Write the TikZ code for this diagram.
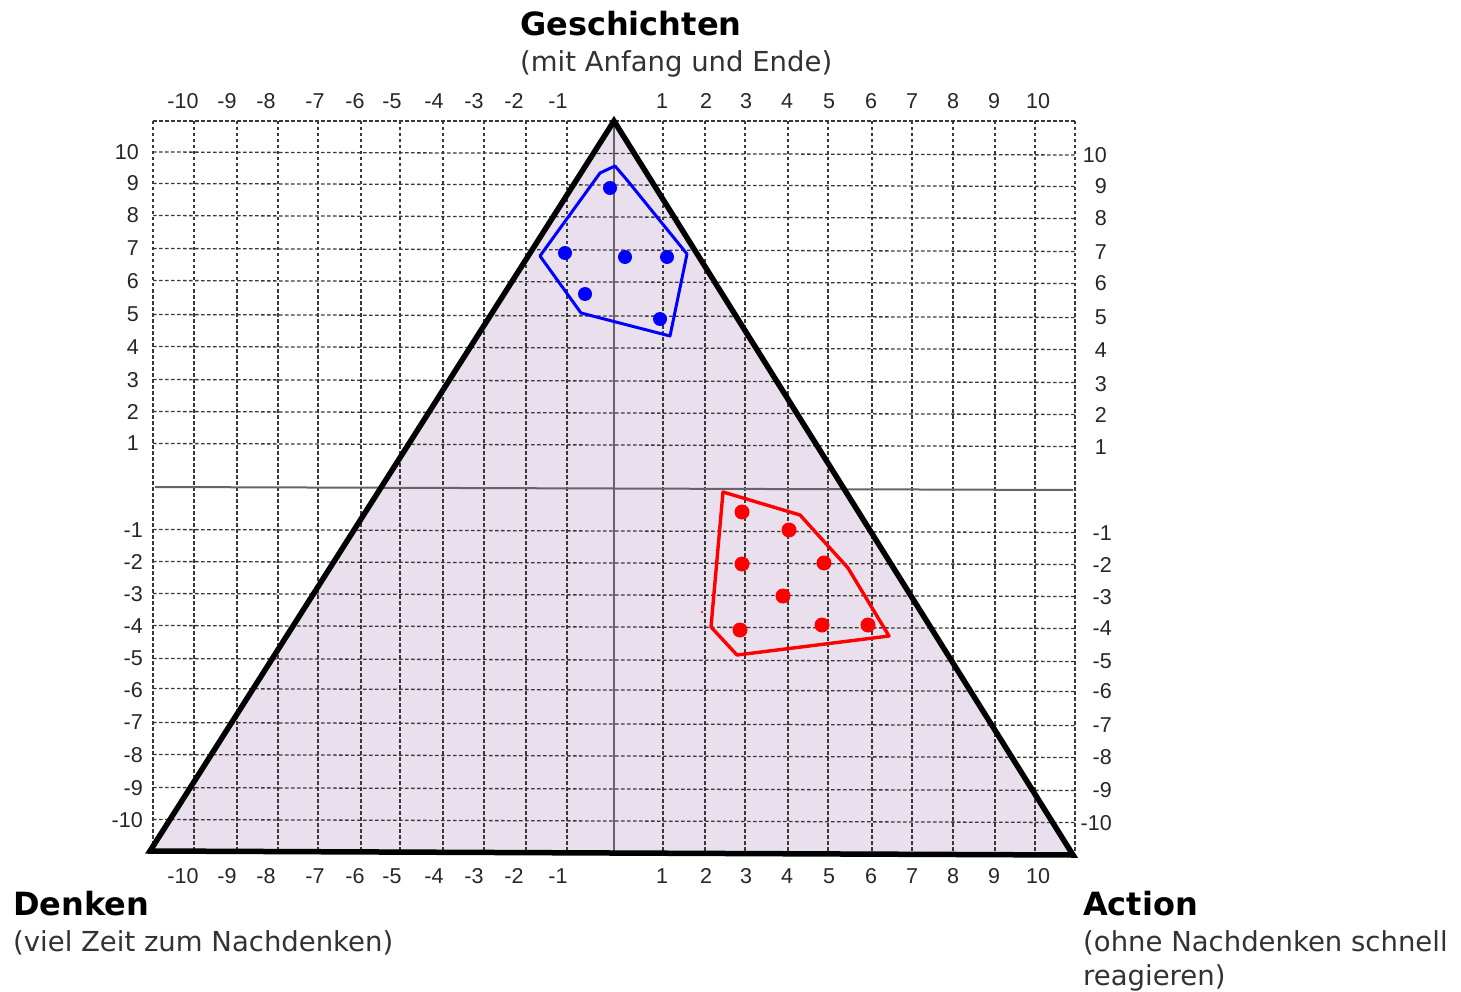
\documentclass[tikz,border=0pt]{standalone}
\usepackage{fontspec}
\setmainfont{DejaVu Sans}
\newfontfamily\tickfont{Liberation Sans}
\definecolor{trifill}{RGB}{234,223,237}
\definecolor{axisgray}{RGB}{105,98,108}
\definecolor{subgray}{RGB}{50,50,50}
\definecolor{ptblue}{RGB}{0,0,255}
\definecolor{ptred}{RGB}{255,0,0}
\begin{document}
\begin{tikzpicture}[x=1pt,y=-1pt,
  gridline/.style={draw=black!78, line width=1.3pt, dash pattern=on 3.5pt off 2.5pt},
  axisline/.style={draw=axisgray, line width=2.2pt},
  tick/.style={font=\tickfont\fontsize{21.5}{22}\selectfont, text=black!85, inner sep=0pt},
  headline/.style={font=\bfseries\fontsize{32}{36}\selectfont, text=black, inner sep=0pt, anchor=base west},
  subline/.style={font=\fontsize{27.5}{32}\selectfont, text=subgray, inner sep=0pt, anchor=base west},
  bluepoly/.style={draw=ptblue, line width=3pt, line join=round},
  redpoly/.style={draw=ptred, line width=3.4pt, line join=round},
  bluedot/.style={fill=ptblue},
  reddot/.style={fill=ptred}]
\useasboundingbox (0,0) rectangle (1461,992);
% triangle corners
\coordinate (A) at (614,121);
\coordinate (B) at (150,851);
\coordinate (C) at (1073,855);
% fill
\fill[trifill] (A) -- (B) -- (C) -- cycle;
% grid: vertical lines
\foreach \gx in {153,194,237,278,318,361,400,443,484,526,567,663,705,745,788,828,872,912,953,995,1035,1075}
  \draw[gridline] (\gx,121) -- (\gx,853);
% grid: horizontal lines
\draw[gridline] (153,121) -- (1075,121);
\foreach \gy in {153.5,185,217,250,282,316,348,381,413,445,531,563,595,627,660,690,724,756,789,821}
  \draw[gridline] (153,\gy-1.5) -- (1075,\gy+1.5);
% axes
\coordinate (VT) at (614,121);
\coordinate (VB) at (614,852);
\coordinate (HL) at (155,487);
\coordinate (HR) at (1073,490);
\draw[axisline] (VT) -- (VB);
\draw[axisline, line width=2pt] (HL) -- (HR);
% triangle outline
\draw[black, line width=5.5pt, line join=miter] (A) -- (B) -- (C) -- cycle;
% top and bottom tick labels
\foreach \v/\tx [count=\i] in {-10/183,-9/227,-8/266,-7/315,-6/355,-5/392,-4/434,-3/474,-2/514,-1/558,1/662,2/706,3/746,4/787,5/829,6/871,7/912,8/953,9/994,10/1038}{
  \node[tick] (top\i) at (\tx,101) {\v};
  \node[tick] (bot\i) at (\tx,876) {\v};
}
% left tick labels
\foreach \v/\ty [count=\i] in {10/152,9/183,8/215,7/248,6/281,5/314,4/347,3/380,2/412,1/443}
  \node[tick, anchor=east] (lp\i) at (139,\ty) {\v};
\foreach \v/\ty [count=\i] in {-1/530,-2/562,-3/594,-4/626,-5/658,-6/690,-7/722,-8/755,-9/788,-10/820}
  \node[tick, anchor=east] (ln\i) at (143,\ty) {\v};
% right tick labels
\foreach \v/\ty [count=\i] in {10/155,9/186,8/218,7/252,6/283,5/317,4/350,3/384,2/415,1/447}
  \node[tick, anchor=east] (rp\i) at (1107,\ty) {\v};
\foreach \v/\ty [count=\i] in {-1/533,-2/565,-3/597,-4/628,-5/661,-6/691,-7/725,-8/757,-9/790,-10/823}
  \node[tick, anchor=east] (rn\i) at (1112,\ty) {\v};
% blue cluster
\draw[bluepoly] (615,166) -- (600,173) -- (540,256) -- (581,313) -- (670,336) -- (687,254) -- (627,180) -- cycle;
\foreach \px/\py in {610/188,565/253,625/257,667/257,585/294,660/319}
  \fill[bluedot] (\px,\py) circle (7pt);
% red cluster
\draw[redpoly] (723,492) -- (800,515) -- (848,568) -- (889,636) -- (737,655) -- (711,627) -- cycle;
\foreach \px/\py in {742/512,789/530,742/564,824/563,783/596,740/630,822/625,868/625}
  \fill[reddot] (\px,\py) circle (7.5pt);
\fill[ptred] (702,612) circle (1.2pt);
% titles
\node[headline] (geschichten) at (520,36) {Geschichten};
\node[subline] (geschsub) at (520,72) {(mit Anfang und Ende)};
\node[headline] (denken) at (13,915) {Denken};
\node[subline] (denkensub) at (13,951) {(viel Zeit zum Nachdenken)};
\node[headline] (action) at (1083,915) {Action};
\node[subline] (actionsub1) at (1083,951) {(ohne Nachdenken schnell};
\node[subline] (actionsub2) at (1083,985) {reagieren)};
\end{tikzpicture}
\end{document}
